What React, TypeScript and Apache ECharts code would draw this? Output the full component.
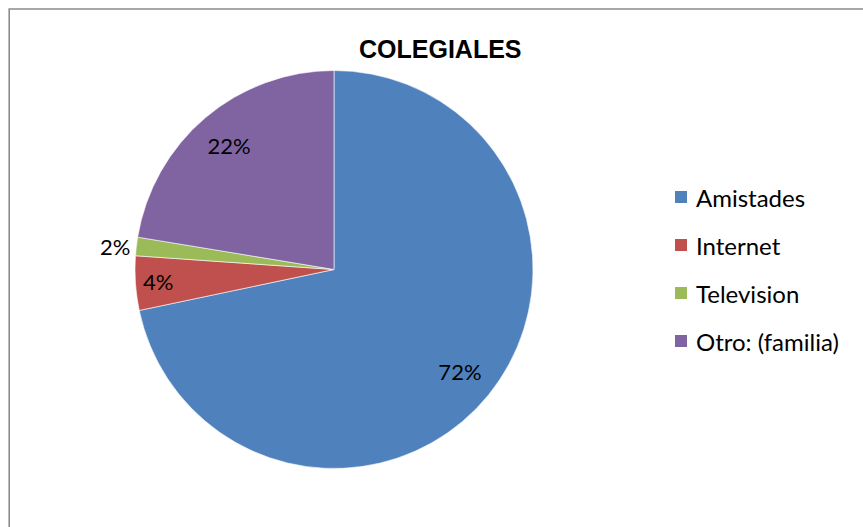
import React, { useEffect, useRef } from "react";
import * as echarts from "echarts";

const categories = ["Amistades", "Internet", "Television", "Otro: (familia)"];
const values = [71.7, 4.4, 1.5, 22.4];
const colors = ["#4F81BD", "#C0504D", "#9BBB59", "#8064A2"];
const titleText = "COLEGIALES";

const FONT = "Lato, 'Liberation Sans', Arial, sans-serif";
const TITLE_FONT = "'Liberation Sans', Arial, sans-serif";

export default function App() {
  const ref = useRef<HTMLDivElement>(null);
  useEffect(() => {
    if (!ref.current) return;
    const chart = echarts.init(ref.current, null, { renderer: "svg" });
    const center = [334, 269.5];
    const R = 199;
    const fmt = (p: any) => Math.round(p.percent) + "%";
    const baseData = categories.map((name, i) => ({ name, value: values[i] }));
    chart.setOption({
      animation: false,
      backgroundColor: "#ffffff",
      color: colors,
      title: {
        text: titleText,
        left: 359,
        top: 36,
        padding: 0,
        textStyle: { fontFamily: TITLE_FONT, fontSize: 25, fontWeight: "bold", color: "#000" },
      },
      legend: {
        orient: "vertical",
        left: 673,
        top: 185,
        padding: 0,
        itemWidth: 14,
        itemHeight: 14,
        itemGap: 24,
        icon: "rect",
        data: categories,
        selectedMode: false,
        textStyle: { fontFamily: FONT, fontSize: 24, lineHeight: 24, color: "#000", padding: [0, 0, 0, 3] },
      },
      graphic: [
        {
          type: "rect",
          shape: { x: 9.2, y: 9, width: 1000, height: 1000 },
          style: { fill: "none", stroke: "#8c8c8c", lineWidth: 1.6 },
          silent: true,
        },
      ],
      series: [
        {
          type: "pie",
          center,
          radius: [0, R],
          startAngle: 90,
          clockwise: true,
          avoidLabelOverlap: false,
          itemStyle: { borderColor: "#ffffff", borderWidth: 0.6 },
          emphasis: { disabled: true },
          labelLine: { show: false, length: 0, length2: 0 },
          label: { show: false },
          data: baseData.map((d, i) =>
            i === 2
              ? {
                  ...d,
                  label: {
                    show: true,
                    position: "outside",
                    formatter: fmt,
                    fontFamily: FONT,
                    fontSize: 22,
                    color: "#000",
                    distanceToLabelLine: 6,
                  },
                }
              : d
          ),
        },
        {
          type: "pie",
          center,
          radius: [R * 0.6, R],
          startAngle: 90,
          clockwise: true,
          silent: true,
          avoidLabelOverlap: false,
          itemStyle: { color: "rgba(0,0,0,0)" },
          labelLine: { show: false },
          label: {
            show: true,
            position: "inside",
            formatter: fmt,
            fontFamily: FONT,
            fontSize: 22,
            color: "#000",
          },
          data: baseData.map((d, i) =>
            i === 0 || i === 3 ? d : { ...d, label: { show: false } }
          ),
        },
        {
          type: "pie",
          center,
          radius: [R * 0.74, R],
          startAngle: 90,
          clockwise: true,
          silent: true,
          avoidLabelOverlap: false,
          itemStyle: { color: "rgba(0,0,0,0)" },
          labelLine: { show: false },
          label: {
            show: true,
            position: "inside",
            formatter: fmt,
            fontFamily: FONT,
            fontSize: 22,
            color: "#000",
          },
          data: baseData.map((d, i) => (i === 1 ? d : { ...d, label: { show: false } })),
        },
      ],
    });
    return () => chart.dispose();
  }, []);
  return (
    <div
      ref={ref}
      style={{ position: "fixed", left: 0, top: 0, width: 863, height: 527, background: "#fff" }}
    />
  );
}
